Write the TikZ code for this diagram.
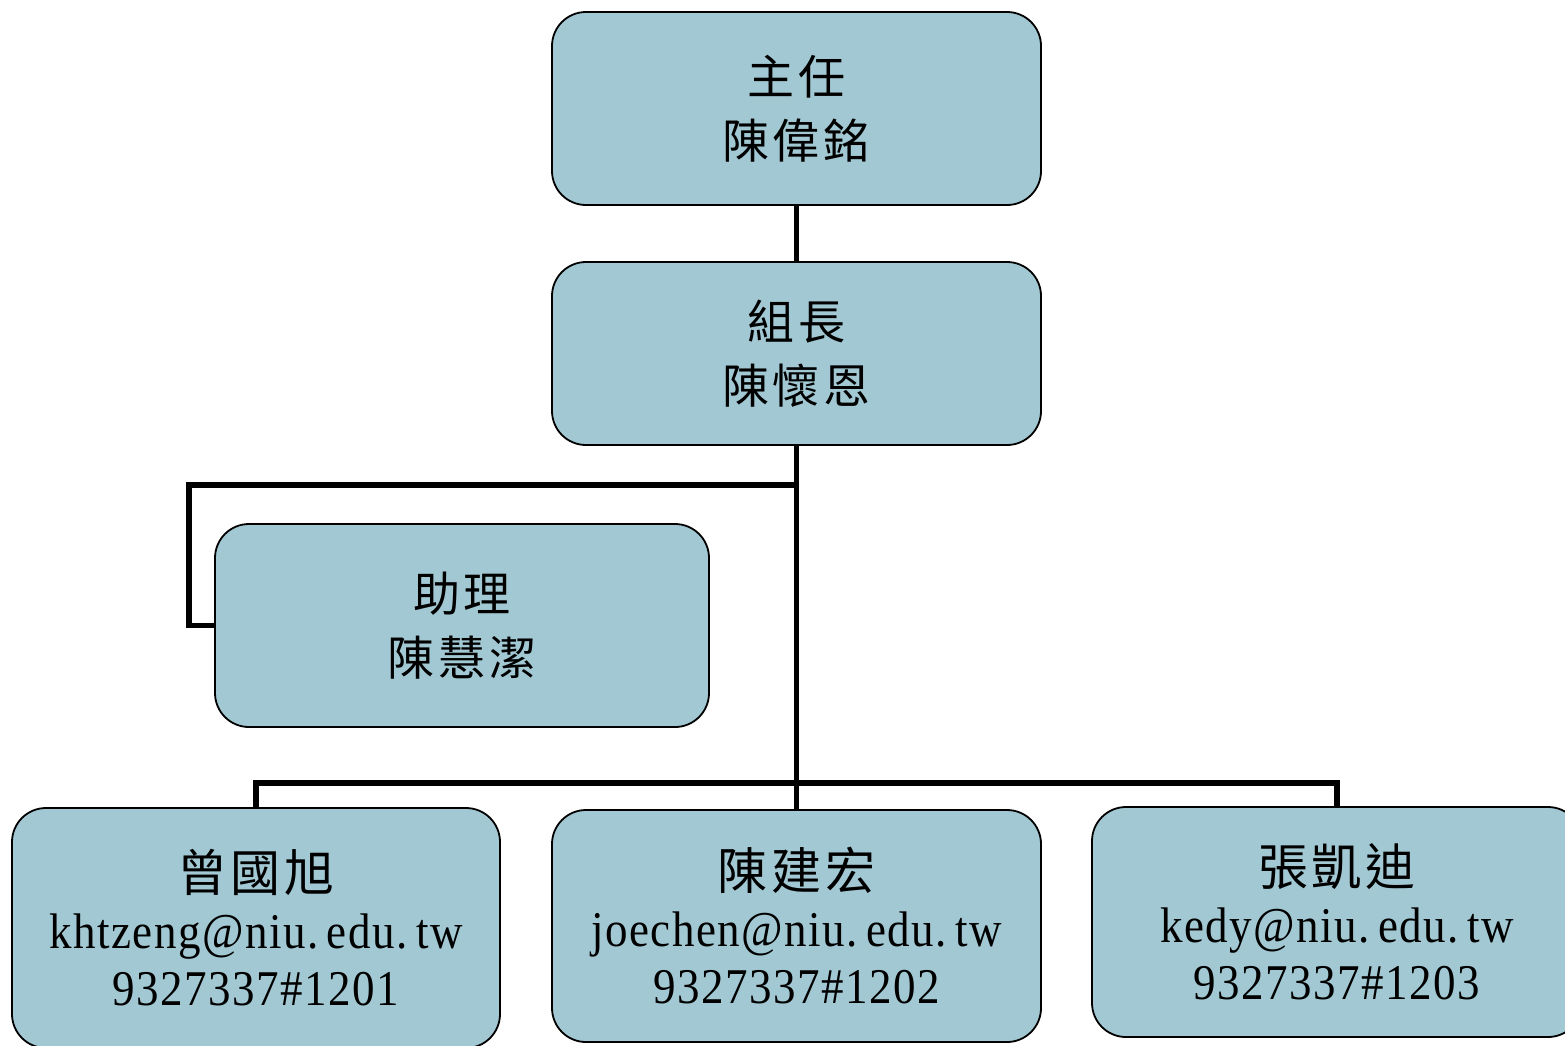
\documentclass[tikz,border=0pt]{standalone}
\usepackage{fontspec}
\setmainfont{Liberation Serif}[FakeStretch=0.9,LetterSpace=3]
\newfontfamily\cjk{Noto Sans CJK TC}[LetterSpace=8]
\usetikzlibrary{backgrounds}
\definecolor{boxfill}{RGB}{162,201,211}
\begin{document}
\begin{tikzpicture}[x=1pt,y=-1pt,
  box/.style={draw=black, line width=1.8pt, fill=boxfill, rounded corners=34pt,
    inner sep=0pt, align=center, font=\fontsize{47}{64}\selectfont},
  lowbox/.style={box, font=\fontsize{50}{57}\selectfont},
  link/.style={line width=5.5pt}]
\clip (0,0) rectangle (1565,1045);
\node[box, minimum width=489pt, minimum height=193pt] (dir) at (796.5,108.5) {\cjk 主任\\\cjk 陳偉銘};
\node[box, minimum width=489pt, minimum height=183pt] (head) at (796.5,353.5) {\cjk 組長\\\cjk 陳懷恩};
\node[box, minimum width=494pt, minimum height=203pt] (asst) at (462,625.5) {\cjk 助理\\\cjk 陳慧潔};
\node[lowbox, minimum width=488pt, minimum height=240pt] (s1) at (256,928) {{\cjk 曾國旭}\\khtzeng@niu.\,edu.\,tw\\9327337\#1201};
\node[lowbox, minimum width=489pt, minimum height=232pt] (s2) at (796.5,926) {{\cjk 陳建宏}\\joechen@niu.\,edu.\,tw\\9327337\#1202};
\node[lowbox, minimum width=490pt, minimum height=230pt] (s3) at (1337,922) {{\cjk 張凱迪}\\kedy@niu.\,edu.\,tw\\9327337\#1203};
\coordinate (bus) at (797,783);
\coordinate (aj) at (797,485);
\begin{scope}[on background layer]
\fill[white] (0,0) rectangle (1565,1045);
\draw[link] (dir.south) -- (head.north);
\draw[link] (head.south) -- (head.south |- bus);
\draw[link] (s1.north) -- (s1.north |- bus) -- (s3.north |- bus) -- (s3.north);
\draw[link] (s2.north) -- (s2.north |- bus);
\draw[link] (asst.west) -- ++(-25,0) |- (aj);
\end{scope}
\end{tikzpicture}
\end{document}
